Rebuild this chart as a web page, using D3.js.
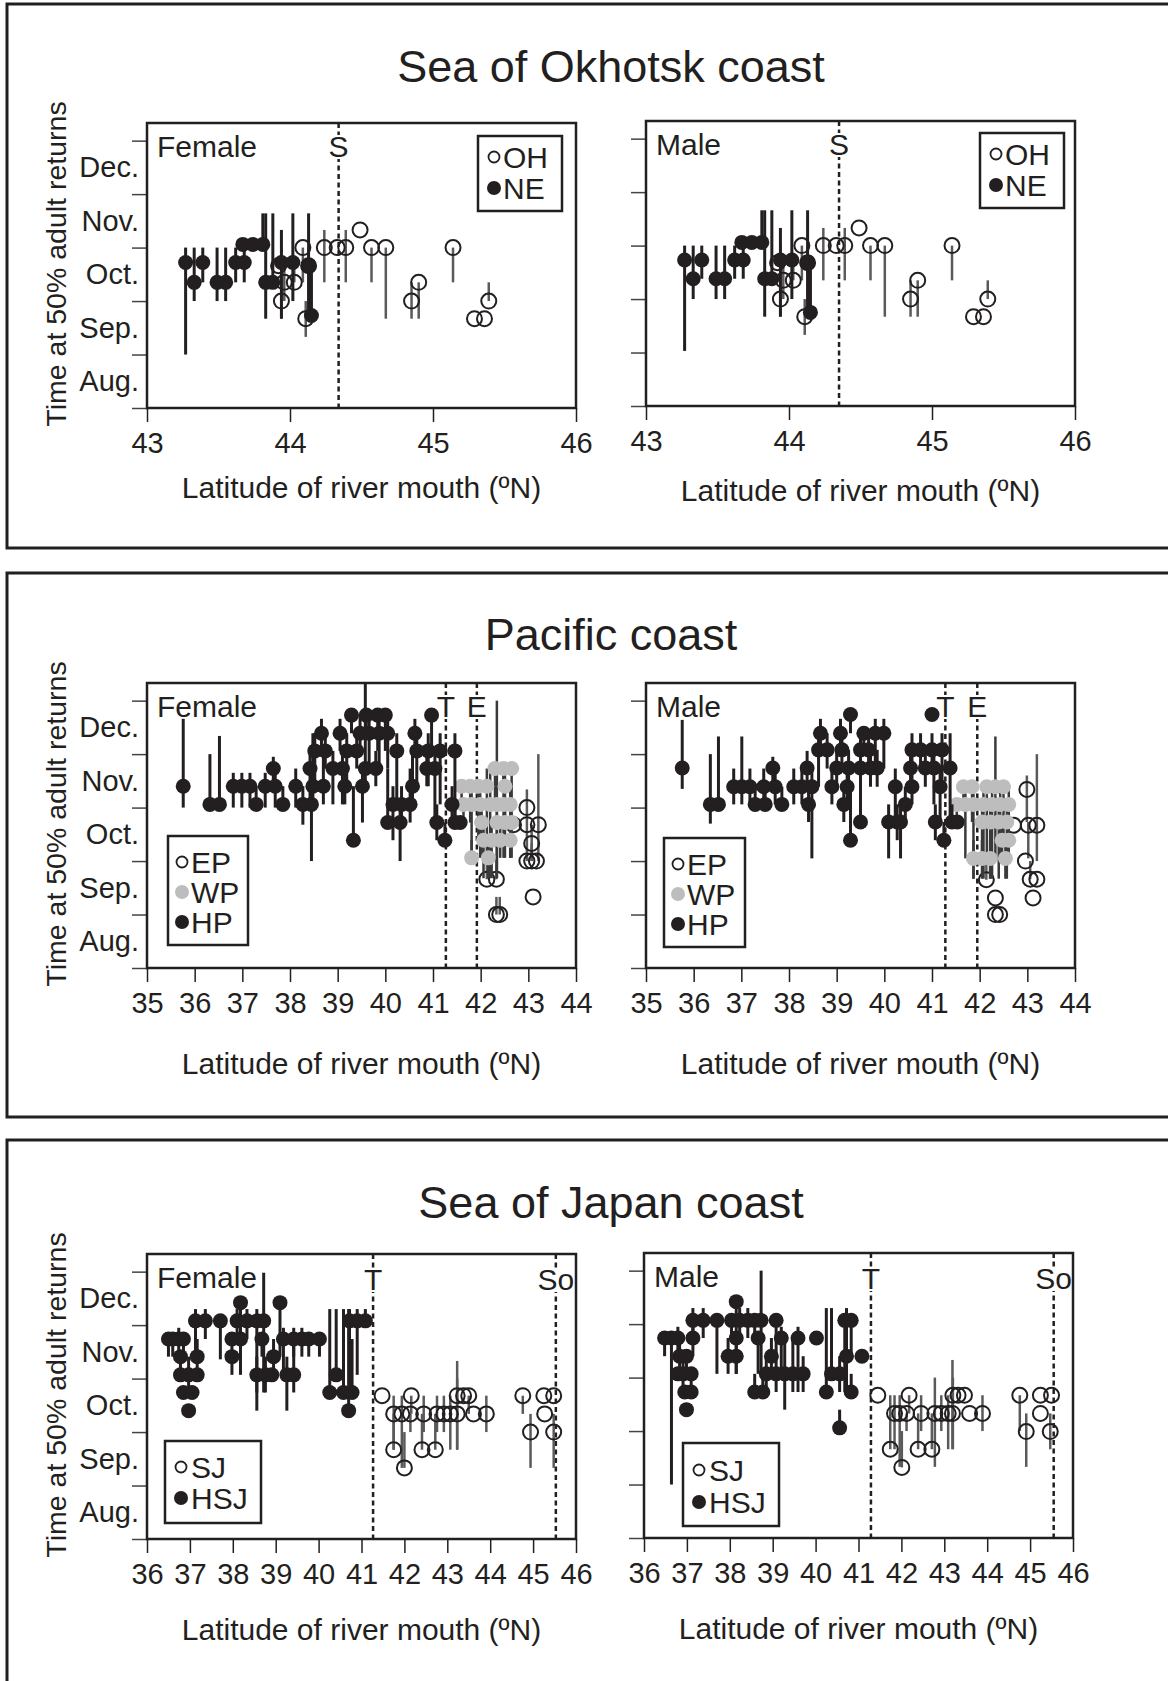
<!DOCTYPE html>
<html>
<head>
<meta charset="utf-8">
<script src="https://cdn.jsdelivr.net/npm/d3@7"></script>
<style>
  body { margin: 0; background: #fff; }
  text { font-family: "Liberation Sans", Arial, sans-serif; fill: #231f20; }
</style>
</head>
<body>
<svg id="fig" width="1168" height="1681"></svg>
<script>
// rows: [latitude, time at 50% returns (month, 8 = 1 Aug), low, high]
var monthTicks = [8, 9, 10, 11, 12, 13];
var monthLabels = ["Aug.", "Sep.", "Oct.", "Nov.", "Dec."];

// ---- Sea of Okhotsk coast ----
var okhTicks = [43, 44, 45, 46];
var okhFemaleOH = [
  [43.92, 10.66, 10.66, 10.66], [43.96, 10.35, 10.0, 10.66], [44.03, 10.35, 10.35, 10.66],
  [43.94, 10.0, 9.67, 11.0], [44.09, 11.0, 10.35, 11.0], [44.11, 9.67, 9.33, 10.0],
  [44.13, 10.66, 9.67, 11.0], [44.24, 11.0, 10.35, 11.33], [44.33, 11.0, 11.0, 11.0],
  [44.39, 11.0, 10.35, 11.33], [44.49, 11.33, 11.33, 11.33], [44.57, 11.0, 10.35, 11.0],
  [44.67, 11.0, 9.67, 11.0], [44.85, 10.0, 9.67, 10.35], [44.90, 10.35, 9.67, 10.35],
  [45.14, 11.0, 10.35, 11.0], [45.29, 9.67, 9.67, 9.67], [45.36, 9.67, 9.67, 9.67],
  [45.39, 10.0, 10.0, 10.35]
];
var okhFemaleNE = [
  [43.27, 10.72, 9.0, 11.0], [43.33, 10.35, 10.0, 11.0], [43.39, 10.72, 10.35, 11.0],
  [43.49, 10.35, 10.0, 11.0], [43.55, 10.35, 10.0, 11.0], [43.62, 10.72, 10.35, 11.0],
  [43.68, 10.72, 10.35, 11.06], [43.67, 11.06, 11.06, 11.06], [43.74, 11.06, 11.06, 11.06],
  [43.81, 11.06, 11.06, 11.64], [43.83, 10.35, 9.67, 11.64], [43.88, 10.35, 10.35, 11.64],
  [43.94, 10.72, 9.67, 11.33], [44.02, 10.72, 10.0, 11.64], [44.13, 10.66, 9.67, 11.64],
  [44.15, 9.73, 9.73, 10.66]
];
var okhMaleOH = [
  [43.92, 10.68, 10.68, 10.68], [43.96, 10.35, 10.0, 10.68], [44.03, 10.35, 10.35, 10.68],
  [43.94, 10.0, 9.67, 11.0], [44.09, 11.0, 10.35, 11.0], [44.11, 9.67, 9.33, 10.0],
  [44.13, 10.68, 9.67, 11.0], [44.24, 11.0, 10.35, 11.33], [44.33, 11.0, 11.0, 11.0],
  [44.39, 11.0, 10.35, 11.33], [44.49, 11.33, 11.33, 11.33], [44.57, 11.0, 10.35, 11.0],
  [44.67, 11.0, 9.67, 11.0], [44.85, 10.0, 9.67, 10.35], [44.90, 10.35, 9.67, 10.35],
  [45.14, 11.0, 10.35, 11.0], [45.29, 9.67, 9.67, 9.67], [45.36, 9.67, 9.67, 9.67],
  [45.39, 10.0, 10.0, 10.35]
];
var okhMaleNE = [
  [43.27, 10.73, 9.03, 11.0], [43.33, 10.38, 10.0, 11.0], [43.39, 10.73, 10.38, 11.0],
  [43.49, 10.38, 10.0, 11.0], [43.55, 10.38, 10.0, 11.0], [43.62, 10.73, 10.38, 11.0],
  [43.68, 10.73, 10.38, 11.06], [43.67, 11.06, 11.06, 11.06], [43.74, 11.06, 11.06, 11.06],
  [43.81, 11.06, 11.06, 11.66], [43.83, 10.38, 9.67, 11.66], [43.88, 10.38, 10.38, 11.66],
  [43.94, 10.73, 9.67, 11.33], [44.02, 10.73, 10.0, 11.66], [44.13, 10.68, 9.67, 11.66],
  [44.15, 9.75, 9.75, 10.68]
];

// ---- Pacific coast ----
var pacTicks = [35, 36, 37, 38, 39, 40, 41, 42, 43, 44];
var pacFemaleEP = [
  [42.97, 11.0, 10.0, 11.34], [42.97, 10.68, 10.68, 10.68], [43.21, 10.68, 10.0, 12.0],
  [42.69, 10.68, 10.68, 10.68], [43.07, 10.33, 10.0, 10.68], [42.97, 10.0, 10.0, 10.0],
  [43.07, 10.0, 10.0, 10.33], [43.17, 10.0, 10.0, 10.0], [42.13, 9.66, 9.66, 10.06],
  [42.33, 9.66, 9.66, 10.06], [42.33, 9.0, 9.0, 9.33], [42.40, 9.0, 9.0, 9.33],
  [43.10, 9.33, 9.33, 9.33]
];
var pacFemaleWP = [
  [41.60, 11.40, 11.06, 11.40], [41.78, 11.40, 10.72, 11.40], [41.95, 11.40, 10.39, 11.40],
  [42.13, 11.40, 10.06, 11.73], [41.64, 11.06, 10.72, 11.06], [41.81, 11.06, 10.06, 11.40],
  [41.99, 11.06, 10.06, 11.40], [42.20, 11.06, 9.68, 11.73], [42.34, 11.06, 9.68, 13.0],
  [42.48, 11.06, 10.06, 11.73], [42.62, 11.06, 10.06, 11.40], [42.30, 11.73, 11.06, 11.73],
  [42.48, 11.73, 11.40, 11.73], [42.65, 11.73, 11.06, 11.73], [42.51, 11.40, 10.72, 11.73],
  [42.02, 10.72, 10.06, 11.06], [42.34, 10.72, 9.68, 11.06], [42.51, 10.72, 10.06, 11.06],
  [42.65, 10.72, 10.06, 11.06], [42.06, 10.39, 9.68, 10.72], [42.23, 10.39, 9.68, 10.72],
  [42.41, 10.39, 10.06, 10.72], [42.62, 10.39, 10.06, 10.72], [41.81, 10.06, 10.06, 10.39],
  [42.16, 10.06, 9.68, 10.39]
];
var pacFemaleHP = [
  [35.76, 11.40, 11.00, 12.66], [36.32, 11.06, 11.06, 12.00], [36.52, 11.06, 11.06, 12.34],
  [36.81, 11.40, 11.00, 11.65], [36.99, 11.40, 11.00, 11.65], [37.16, 11.40, 11.00, 11.65],
  [37.29, 11.06, 11.06, 11.40], [37.48, 11.40, 11.00, 11.65], [37.65, 11.73, 11.40, 11.95],
  [37.69, 11.40, 11.00, 11.73], [37.85, 11.06, 11.06, 11.40], [38.12, 11.40, 11.00, 11.73],
  [38.27, 11.06, 10.68, 11.40], [38.42, 11.73, 11.06, 12.06], [38.45, 11.06, 10.00, 11.73],
  [38.48, 11.40, 11.06, 12.39], [38.52, 12.06, 11.40, 12.39], [38.66, 12.39, 12.06, 12.66],
  [38.70, 11.40, 11.06, 12.06], [38.74, 12.06, 11.73, 12.39], [38.90, 11.73, 11.06, 12.06],
  [39.05, 12.39, 12.06, 12.66], [39.10, 11.73, 11.06, 12.06], [39.15, 11.40, 11.06, 11.73],
  [39.19, 12.06, 11.40, 12.39], [39.29, 12.73, 12.39, 12.73], [39.33, 10.39, 10.39, 11.40],
  [39.40, 12.06, 11.73, 12.39], [39.47, 12.39, 12.06, 12.73], [39.52, 11.40, 10.72, 11.73],
  [39.58, 11.73, 11.40, 13.33], [39.60, 12.73, 12.39, 12.73], [39.66, 12.39, 11.73, 12.73],
  [39.80, 11.73, 11.40, 12.06], [39.84, 12.73, 12.06, 12.73], [39.87, 12.39, 11.73, 12.73],
  [40.00, 12.73, 12.06, 12.73], [40.05, 12.39, 11.73, 12.73], [40.05, 10.72, 10.72, 11.73],
  [40.16, 11.06, 10.39, 11.40], [40.24, 12.06, 11.06, 12.39], [40.31, 10.72, 10.00, 11.06],
  [40.34, 11.06, 10.72, 11.40], [40.52, 11.06, 10.72, 11.73], [40.57, 11.40, 11.06, 12.06],
  [40.62, 12.39, 12.06, 12.66], [40.66, 12.06, 11.40, 12.39], [40.87, 11.73, 11.40, 12.06],
  [40.90, 12.06, 11.40, 12.39], [40.97, 12.73, 12.06, 12.73], [41.04, 11.73, 10.72, 12.06],
  [41.08, 10.72, 10.39, 11.06], [41.15, 12.06, 11.06, 12.39], [41.25, 10.39, 10.39, 10.72],
  [41.40, 11.06, 10.72, 11.40], [41.46, 12.06, 10.72, 12.39], [41.46, 10.72, 10.72, 11.06],
  [41.57, 10.72, 10.72, 10.72]
];
var pacMaleEP = [
  [42.99, 11.34, 10.73, 11.60], [42.71, 10.67, 10.67, 10.67], [43.02, 10.67, 10.05, 10.73],
  [43.20, 10.67, 10.00, 12.00], [42.96, 10.00, 10.00, 10.00], [43.06, 9.66, 9.66, 10.00],
  [43.20, 9.66, 9.66, 9.66], [42.14, 9.65, 9.65, 10.05], [42.33, 9.31, 9.31, 9.31],
  [42.33, 9.00, 9.00, 9.00], [42.42, 9.00, 9.00, 9.00], [43.12, 9.31, 9.31, 9.31]
];
var pacMaleWP = [
  [41.66, 11.39, 11.06, 11.50], [41.84, 11.39, 10.73, 11.50], [42.15, 11.39, 10.05, 11.50],
  [42.33, 11.39, 10.05, 12.33], [42.50, 11.39, 10.39, 11.50], [41.52, 11.06, 10.73, 11.06],
  [41.70, 11.06, 10.05, 11.39], [41.87, 11.06, 9.67, 11.39], [42.08, 11.06, 9.67, 11.39],
  [42.26, 11.06, 9.67, 11.39], [42.43, 11.06, 10.05, 11.39], [42.61, 11.06, 10.05, 11.39],
  [42.05, 10.73, 10.05, 11.06], [42.22, 10.73, 9.67, 11.06], [42.40, 10.73, 9.67, 11.06],
  [42.57, 10.73, 9.67, 11.06], [42.47, 10.39, 10.05, 10.73], [42.61, 10.39, 10.05, 10.73],
  [41.87, 10.05, 9.67, 10.39], [42.05, 10.05, 9.67, 10.39], [42.22, 10.05, 9.67, 10.39],
  [42.54, 10.05, 9.67, 10.39]
];
var pacMaleHP = [
  [35.76, 11.74, 11.35, 12.64], [36.35, 11.06, 10.70, 12.00], [36.52, 11.06, 11.06, 12.33],
  [36.84, 11.39, 11.06, 11.73], [37.01, 11.39, 11.06, 12.33], [37.18, 11.39, 11.06, 11.73],
  [37.29, 11.06, 11.06, 11.39], [37.47, 11.39, 11.06, 11.73], [37.50, 11.06, 11.06, 11.39],
  [37.66, 11.74, 11.39, 11.95], [37.71, 11.39, 11.06, 11.73], [37.85, 11.06, 11.06, 11.39],
  [38.10, 11.39, 11.06, 11.73], [38.27, 11.39, 11.06, 11.73], [38.41, 11.06, 10.73, 11.39],
  [38.38, 11.74, 11.39, 12.06], [38.48, 11.39, 10.05, 11.73], [38.62, 12.08, 11.39, 12.39],
  [38.66, 12.39, 12.08, 12.66], [38.80, 12.08, 11.73, 12.39], [38.90, 11.39, 11.06, 11.73],
  [39.00, 11.74, 11.39, 12.08], [39.08, 12.39, 12.08, 12.66], [39.11, 12.08, 11.73, 12.39],
  [39.15, 11.06, 10.73, 11.39], [39.22, 11.39, 11.06, 11.73], [39.25, 11.74, 11.06, 12.08],
  [39.29, 12.74, 12.39, 12.74], [39.29, 10.39, 10.39, 11.39], [39.50, 10.73, 10.73, 11.39],
  [39.50, 11.74, 11.06, 12.08], [39.50, 12.08, 11.73, 12.39], [39.57, 12.39, 12.08, 12.39],
  [39.67, 12.08, 11.73, 12.39], [39.71, 11.74, 11.39, 12.08], [39.81, 12.39, 11.73, 12.66],
  [39.85, 11.74, 11.39, 12.08], [39.99, 12.39, 11.73, 12.66], [40.09, 10.73, 10.05, 11.06],
  [40.23, 11.39, 10.73, 11.73], [40.27, 10.73, 10.39, 11.06], [40.34, 10.73, 10.05, 11.06],
  [40.44, 11.06, 10.73, 11.39], [40.55, 11.74, 11.39, 12.08], [40.58, 12.08, 11.73, 12.39],
  [40.58, 11.39, 11.06, 11.73], [40.76, 12.08, 11.73, 12.39], [40.86, 11.74, 11.39, 12.08],
  [41.00, 12.74, 12.74, 12.74], [41.00, 12.08, 11.73, 12.39], [41.04, 11.74, 11.06, 12.08],
  [41.07, 10.73, 10.39, 11.06], [41.17, 11.39, 10.73, 11.73], [41.21, 12.08, 11.39, 12.39],
  [41.25, 10.39, 10.39, 10.73], [41.38, 11.74, 10.73, 12.39], [41.42, 10.73, 10.73, 11.06],
  [41.53, 10.73, 10.73, 10.73]
];

// ---- Sea of Japan coast ----
var sojTicks = [36, 37, 38, 39, 40, 41, 42, 43, 44, 45, 46];
var sojFemaleSJ = [
  [41.48, 10.68, 10.68, 10.68], [41.75, 10.34, 9.67, 10.68], [41.75, 9.67, 9.67, 10.34],
  [41.94, 10.34, 9.33, 10.68], [42.14, 10.34, 10.00, 10.34], [42.00, 9.33, 9.33, 10.00],
  [42.16, 10.68, 10.34, 10.68], [42.41, 9.67, 9.67, 10.34], [42.45, 10.34, 10.00, 10.68],
  [42.72, 9.67, 9.67, 10.34], [42.76, 10.34, 10.00, 10.68], [42.92, 10.34, 10.00, 10.68],
  [43.07, 10.34, 9.67, 10.68], [43.23, 10.34, 9.67, 11.33], [43.23, 10.68, 9.67, 11.00],
  [43.38, 10.68, 10.68, 10.68], [43.50, 10.68, 10.34, 10.68], [43.61, 10.34, 10.34, 10.34],
  [43.91, 10.34, 10.00, 10.68], [44.76, 10.68, 10.34, 10.68], [44.94, 10.00, 9.33, 10.34],
  [45.25, 10.68, 10.68, 10.68], [45.48, 10.68, 10.68, 10.68], [45.27, 10.34, 10.34, 10.34],
  [45.48, 10.00, 9.33, 10.34]
];
var sojFemaleHSJ = [
  [36.50, 11.74, 11.41, 11.74], [36.60, 11.74, 11.41, 11.74], [36.74, 11.74, 11.41, 11.95],
  [36.85, 11.74, 11.41, 11.74], [36.78, 11.41, 11.07, 11.41], [37.17, 11.41, 11.07, 11.74],
  [36.78, 11.07, 11.07, 11.07], [36.97, 11.07, 10.74, 11.41], [37.17, 11.07, 11.07, 11.07],
  [36.85, 10.74, 10.74, 10.74], [37.05, 10.74, 10.74, 10.74], [36.97, 10.40, 10.40, 10.40],
  [37.13, 12.08, 11.41, 12.30], [37.36, 12.08, 11.74, 12.30], [37.71, 12.08, 11.36, 12.08],
  [37.98, 11.74, 11.07, 11.74], [38.18, 11.74, 11.07, 12.30], [37.98, 11.41, 11.41, 11.41],
  [38.10, 12.08, 11.74, 12.30], [38.18, 12.42, 12.08, 12.42], [38.33, 12.08, 11.74, 12.30],
  [38.56, 12.08, 10.40, 12.30], [38.72, 12.08, 10.74, 12.98], [38.68, 11.74, 11.41, 11.74],
  [38.56, 11.07, 10.74, 11.41], [38.76, 11.07, 10.74, 11.41], [38.91, 11.07, 11.07, 11.07],
  [38.95, 11.41, 11.07, 11.74], [39.10, 12.42, 11.41, 12.42], [39.18, 11.74, 11.07, 11.95],
  [39.26, 11.07, 10.40, 11.41], [39.42, 11.07, 10.74, 11.74], [39.42, 11.74, 11.41, 11.95],
  [39.61, 11.74, 11.41, 11.95], [39.77, 11.74, 11.41, 11.74], [40.02, 11.74, 11.41, 11.74],
  [40.26, 10.74, 10.74, 12.30], [40.41, 11.07, 11.07, 12.30], [40.58, 10.74, 10.74, 12.30],
  [40.78, 10.74, 10.74, 11.74], [40.70, 10.40, 10.40, 12.30], [40.72, 12.08, 10.74, 12.30],
  [40.90, 12.08, 11.07, 12.30], [41.09, 12.08, 12.08, 12.30]
];
var sojMaleSJ = [
  [41.45, 10.67, 10.67, 10.67], [41.74, 9.66, 9.66, 10.67], [41.84, 10.33, 9.66, 10.67],
  [41.96, 10.33, 9.33, 10.67], [42.12, 10.33, 10.00, 10.33], [42.01, 9.32, 9.32, 10.00],
  [42.18, 10.67, 10.33, 10.67], [42.39, 9.66, 9.66, 10.33], [42.46, 10.33, 10.00, 10.67],
  [42.71, 9.66, 9.66, 10.33], [42.78, 10.33, 9.33, 11.00], [42.93, 10.33, 10.00, 10.67],
  [43.09, 10.33, 9.66, 10.67], [43.19, 10.33, 9.66, 11.33], [43.20, 10.67, 9.66, 11.00],
  [43.32, 10.67, 10.67, 10.67], [43.47, 10.67, 10.67, 10.67], [43.59, 10.33, 10.33, 10.33],
  [43.89, 10.33, 10.00, 10.67], [44.76, 10.67, 10.00, 10.67], [44.91, 9.99, 9.33, 10.33],
  [45.24, 10.67, 10.67, 10.67], [45.50, 10.67, 10.67, 10.67], [45.24, 10.33, 10.33, 10.33],
  [45.47, 9.99, 9.66, 10.33]
];
var sojMaleHSJ = [
  [36.48, 11.74, 11.40, 11.74], [36.64, 11.74, 9.00, 11.74], [36.79, 11.74, 11.40, 11.95],
  [36.83, 11.40, 11.07, 11.74], [36.99, 11.40, 11.07, 11.40], [36.79, 11.07, 11.07, 11.07],
  [36.91, 11.07, 10.73, 11.40], [37.10, 11.07, 10.73, 11.07], [36.95, 10.73, 10.73, 10.73],
  [37.10, 10.73, 10.73, 10.73], [36.99, 10.40, 10.40, 10.40], [37.14, 11.74, 11.40, 12.20],
  [37.14, 12.07, 11.74, 12.30], [37.38, 12.07, 11.74, 12.30], [37.70, 12.07, 11.07, 12.07],
  [37.96, 11.40, 11.07, 11.74], [38.15, 11.40, 11.07, 11.74], [38.15, 11.74, 11.07, 12.07],
  [38.04, 12.07, 11.74, 12.07], [38.23, 12.07, 11.74, 12.30], [38.42, 12.07, 11.74, 12.30],
  [38.15, 12.42, 12.07, 12.42], [38.58, 12.07, 11.74, 12.07], [38.73, 12.07, 11.07, 13.00],
  [38.66, 11.74, 11.07, 11.74], [38.58, 10.73, 10.73, 11.07], [38.77, 10.73, 10.73, 11.07],
  [38.85, 11.07, 10.73, 11.40], [38.97, 11.40, 11.07, 11.74], [39.08, 12.07, 11.40, 12.07],
  [39.08, 11.07, 10.73, 11.40], [39.28, 11.07, 10.40, 11.74], [39.47, 11.07, 10.73, 11.74],
  [39.71, 11.07, 10.73, 11.40], [39.20, 11.74, 11.07, 11.95], [39.59, 11.74, 10.73, 11.95],
  [40.02, 11.74, 11.74, 11.74], [40.25, 10.73, 10.73, 12.30], [40.37, 11.07, 11.07, 12.30],
  [40.56, 11.07, 10.73, 11.40], [40.56, 10.06, 10.06, 10.40], [40.72, 11.40, 10.73, 12.30],
  [40.83, 10.73, 10.73, 11.07], [40.68, 12.07, 10.73, 12.07], [40.83, 12.07, 11.40, 12.07],
  [41.08, 11.40, 11.40, 11.40]
];

var W = 429, H = 285, R = 7.5;
var ink = "#231f20";
var styles = {
  open:  { fill: "none", stroke: ink, bar: "#5a5a5a", barW: 2.5 },
  gray:  { fill: "#bdbdbd", stroke: "none", bar: "#3a3a3a", barW: 2.5 },
  black: { fill: ink, stroke: "none", bar: ink, barW: 3 }
};

var svg = d3.select("#fig");

function frame(y0, y1) {
  svg.append("rect").attr("x", 7).attr("y", y0).attr("width", 1175).attr("height", y1 - y0)
    .attr("fill", "none").attr("stroke", ink).attr("stroke-width", 3);
}

function drawPlot(c) {
  var g = svg.append("g");
  var x = d3.scaleLinear().domain([c.xTicks[0], c.xTicks[c.xTicks.length - 1]]).range([c.left, c.left + W]);
  var y = d3.scaleLinear().domain([8, 13.33]).range([c.top + H, c.top]);

  // y ticks at month starts, labels at mid-month
  var ya = g.append("g").attr("transform", "translate(" + c.left + ",0)")
    .call(d3.axisLeft(y).tickValues(monthTicks).tickSize(15).tickFormat(""));
  ya.select(".domain").remove();
  ya.selectAll("line").attr("stroke", "#444").attr("stroke-width", 1.5);
  if (c.showMonths) {
    var ml = g.append("g").attr("transform", "translate(" + c.left + ",0)")
      .call(d3.axisLeft(y).tickValues([8.5, 9.5, 10.5, 11.5, 12.5]).tickSize(0).tickPadding(8)
        .tickFormat(function (d, i) { return monthLabels[i]; }));
    ml.select(".domain").remove();
    ml.selectAll("text").attr("font-size", 29).attr("font-family", null).attr("fill", ink);
  }

  var xa = g.append("g").attr("transform", "translate(0," + (c.top + H) + ")")
    .call(d3.axisBottom(x).tickValues(c.xTicks).tickSize(14).tickPadding(10).tickFormat(d3.format("d")));
  xa.select(".domain").remove();
  xa.selectAll("line").attr("stroke", ink).attr("stroke-width", 1.5);
  xa.selectAll("text").attr("font-size", 29).attr("font-family", null).attr("fill", ink);

  // boundary lines, label sits on a white patch over the line
  c.lines.forEach(function (l) {
    g.append("line").attr("x1", x(l.at)).attr("x2", x(l.at)).attr("y1", c.top).attr("y2", c.top + H + 4)
      .attr("stroke", ink).attr("stroke-width", 2.5).attr("stroke-dasharray", "5,3.5");
    var t = g.append("text").attr("x", x(l.at)).attr("y", c.top + c.lineLabelY).attr("text-anchor", "middle")
      .attr("font-size", 30).text(l.label);
    var bb = t.node().getBBox();
    g.insert("rect", function () { return t.node(); })
      .attr("x", bb.x).attr("y", bb.y + 5).attr("width", bb.width).attr("height", bb.height - 9)
      .attr("fill", "#fff");
  });

  // series: bars then points
  c.series.forEach(function (s) {
    var st = styles[s.style];
    g.append("g").selectAll("line").data(s.rows).join("line")
      .attr("x1", function (d) { return x(d[0]); }).attr("x2", function (d) { return x(d[0]); })
      .attr("y1", function (d) { return y(d[2]); }).attr("y2", function (d) { return y(d[3]); })
      .attr("stroke", st.bar).attr("stroke-width", st.barW);
    g.append("g").selectAll("circle").data(s.rows).join("circle")
      .attr("cx", function (d) { return x(d[0]); }).attr("cy", function (d) { return y(d[1]); })
      .attr("r", R).attr("fill", st.fill).attr("stroke", st.stroke).attr("stroke-width", 2);
  });

  // plot frame
  g.append("rect").attr("x", c.left).attr("y", c.top).attr("width", W).attr("height", H)
    .attr("fill", "none").attr("stroke", ink).attr("stroke-width", 2.5);

  g.append("text").attr("x", c.left + 10).attr("y", c.top + 34).attr("font-size", 30).text(c.sex);

  // legend
  var L = c.legend;
  g.append("rect").attr("x", c.left + L.dx).attr("y", c.top + L.dy).attr("width", L.w).attr("height", L.h)
    .attr("fill", "#fff").attr("stroke", ink).attr("stroke-width", 2.5);
  c.series.forEach(function (s, i) {
    var st = styles[s.style];
    var cy = c.top + L.dy + L.first + i * L.step;
    g.append("circle").attr("cx", c.left + L.dx + L.cx).attr("cy", cy)
      .attr("r", s.style === "open" ? 5.5 : 7).attr("fill", st.fill).attr("stroke", st.stroke).attr("stroke-width", 1.8);
    g.append("text").attr("x", c.left + L.dx + L.tx).attr("y", cy + 11).attr("font-size", 30).text(s.name);
  });

  // x title
  g.append("text").attr("x", c.left + W / 2).attr("y", c.top + H + c.xTitleDy).attr("text-anchor", "middle")
    .attr("font-size", 30).text("Latitude of river mouth (\u00baN)");
}

function drawPanel(p) {
  frame(p.frame[0], p.frame[1]);
  svg.append("text").attr("x", 611).attr("y", p.titleY).attr("text-anchor", "middle")
    .attr("font-size", 45).text(p.title);
  svg.append("text").attr("transform", "translate(66," + (p.plots[0].top + 141) + ") rotate(-90)")
    .attr("text-anchor", "middle").attr("font-size", 28.5).text("Time at 50% adult returns");
  p.plots.forEach(drawPlot);
}

drawPanel({
  frame: [4, 548], title: "Sea of Okhotsk coast", titleY: 82,
  plots: [
    { left: 147, top: 123, sex: "Female", showMonths: true, xTicks: okhTicks, xTitleDy: 90, lineLabelY: 34,
      lines: [{ at: 44.34, label: "S" }],
      legend: { dx: 331, dy: 13, w: 84, h: 75, first: 21, step: 31, cx: 16, tx: 25 },
      series: [{ name: "OH", style: "open", rows: okhFemaleOH },
               { name: "NE", style: "black", rows: okhFemaleNE }] },
    { left: 646, top: 121, sex: "Male", showMonths: false, xTicks: okhTicks, xTitleDy: 95, lineLabelY: 34,
      lines: [{ at: 44.35, label: "S" }],
      legend: { dx: 334, dy: 12, w: 84, h: 75, first: 21, step: 31, cx: 16, tx: 25 },
      series: [{ name: "OH", style: "open", rows: okhMaleOH },
               { name: "NE", style: "black", rows: okhMaleNE }] }
  ]
});

drawPanel({
  frame: [573, 1117], title: "Pacific coast", titleY: 650,
  plots: [
    { left: 147, top: 683, sex: "Female", showMonths: true, xTicks: pacTicks, xTitleDy: 106, lineLabelY: 34,
      lines: [{ at: 41.27, label: "T" }, { at: 41.92, label: "E" }],
      legend: { dx: 21, dy: 153, w: 80, h: 109, first: 26, step: 30, cx: 14, tx: 23 },
      series: [{ name: "EP", style: "open", rows: pacFemaleEP },
               { name: "WP", style: "gray", rows: pacFemaleWP },
               { name: "HP", style: "black", rows: pacFemaleHP }] },
    { left: 646, top: 683, sex: "Male", showMonths: false, xTicks: pacTicks, xTitleDy: 106, lineLabelY: 34,
      lines: [{ at: 41.28, label: "T" }, { at: 41.95, label: "E" }],
      legend: { dx: 18, dy: 155, w: 81, h: 109, first: 26, step: 30, cx: 14, tx: 23 },
      series: [{ name: "EP", style: "open", rows: pacMaleEP },
               { name: "WP", style: "gray", rows: pacMaleWP },
               { name: "HP", style: "black", rows: pacMaleHP }] }
  ]
});

drawPanel({
  frame: [1140, 1700], title: "Sea of Japan coast", titleY: 1218,
  plots: [
    { left: 147, top: 1254, sex: "Female", showMonths: true, xTicks: sojTicks, xTitleDy: 101, lineLabelY: 36,
      lines: [{ at: 41.27, label: "T" }, { at: 45.53, label: "So" }],
      legend: { dx: 18, dy: 187, w: 96, h: 82, first: 26, step: 31, cx: 16, tx: 26 },
      series: [{ name: "SJ", style: "open", rows: sojFemaleSJ },
               { name: "HSJ", style: "black", rows: sojFemaleHSJ }] },
    { left: 644, top: 1253, sex: "Male", showMonths: false, xTicks: sojTicks, xTitleDy: 101, lineLabelY: 36,
      lines: [{ at: 41.29, label: "T" }, { at: 45.55, label: "So" }],
      legend: { dx: 39, dy: 190, w: 96, h: 83, first: 27, step: 32, cx: 16, tx: 26 },
      series: [{ name: "SJ", style: "open", rows: sojMaleSJ },
               { name: "HSJ", style: "black", rows: sojMaleHSJ }] }
  ]
});
</script>
</body>
</html>
